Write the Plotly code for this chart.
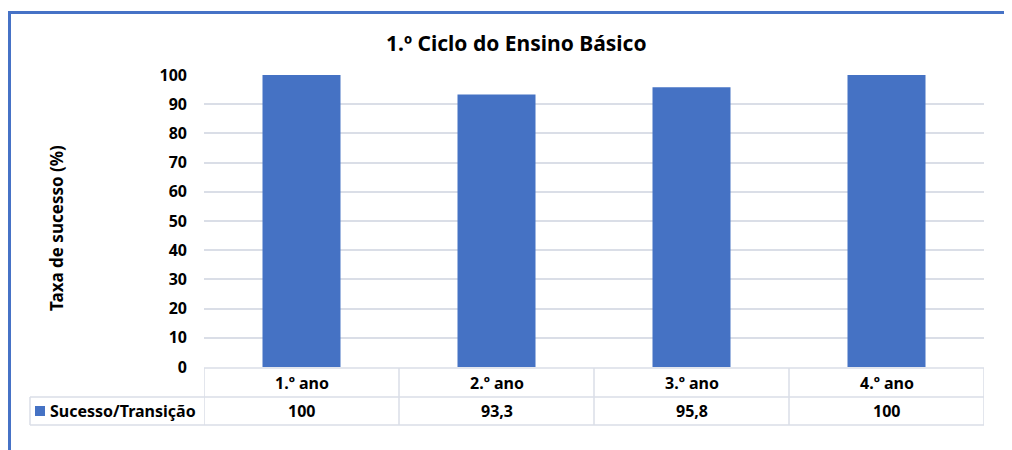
import plotly.graph_objects as go

categories = ["1.º ano", "2.º ano", "3.º ano", "4.º ano"]
values = [100, 93.3, 95.8, 100]
value_labels = ["100", "93,3", "95,8", "100"]
series_name = "Sucesso/Transição"
title = "1.º Ciclo do Ensino Básico"
y_title = "Taxa de sucesso (%)"
y_ticks = [0, 10, 20, 30, 40, 50, 60, 70, 80, 90, 100]

FONT = "Noto Sans"
BLUE = "#4572C4"
GRID = "#dadee7"

OFF = 8  # page body margin offset
W, H = 1012 - OFF, 450 - OFF
PL, PR, PT, PB = 204, 984, 75, 367
L, R, T, B = PL - OFF, W - (PR - OFF), PT - OFF, H - (PB - OFF)
pw, ph = PR - PL, PB - PT

def px_x(p):
    return (p - PL) / pw

def px_y(p):
    return (PB - p) / ph

fig = go.Figure()
fig.add_trace(go.Bar(
    x=list(range(len(categories))), y=values, name=series_name,
    marker=dict(color=BLUE, line=dict(width=0)), width=0.4,
    hoverinfo="y",
))

shapes = []
shapes.append(dict(type="rect", xref="paper", yref="paper",
                   x0=px_x(9.5), x1=px_x(1030), y0=px_y(470), y1=px_y(12.5),
                   line=dict(color="#4672c6", width=3), fillcolor="rgba(0,0,0,0)", layer="above"))

row1_top, row2_top, row2_bot = 368, 397, 425
legend_left = 30
tline = dict(color=GRID, width=1.5)
n = len(categories)
shapes.append(dict(type="line", xref="x", yref="paper", x0=-0.5, x1=n - 0.5,
                   y0=px_y(row1_top), y1=px_y(row1_top), line=tline))
shapes.append(dict(type="line", xref="paper", yref="paper", x0=px_x(legend_left), x1=1,
                   y0=px_y(row2_top), y1=px_y(row2_top), line=tline))
shapes.append(dict(type="line", xref="paper", yref="paper", x0=px_x(legend_left), x1=1,
                   y0=px_y(row2_bot), y1=px_y(row2_bot), line=tline))
for i in range(n + 1):
    shapes.append(dict(type="line", xref="x", yref="paper", x0=i - 0.5, x1=i - 0.5,
                       y0=px_y(row2_bot), y1=px_y(row1_top), line=tline))
shapes.append(dict(type="line", xref="paper", yref="paper", x0=px_x(legend_left), x1=px_x(legend_left),
                   y0=px_y(row2_bot), y1=px_y(row2_top), line=tline))
shapes.append(dict(type="rect", xref="paper", yref="paper",
                   x0=px_x(35), x1=px_x(45), y0=px_y(416), y1=px_y(406),
                   fillcolor=BLUE, line=dict(width=0)))

annotations = []
r1 = px_y((row1_top + row2_top) / 2)
r2 = px_y((row2_top + row2_bot) / 2)
tf = dict(family=FONT, size=16, color="#000")
for i, (c, v) in enumerate(zip(categories, value_labels)):
    annotations.append(dict(x=i, y=r1, xref="x", yref="paper", text=f"<b>{c}</b>",
                            xanchor="center", yanchor="middle", showarrow=False, font=tf))
    annotations.append(dict(x=i, y=r2, xref="x", yref="paper", text=f"<b>{v}</b>",
                            xanchor="center", yanchor="middle", showarrow=False, font=tf))
annotations.append(dict(x=px_x(48), y=r2, xref="paper", yref="paper", text=f"<b>{series_name}</b>",
                        xanchor="left", yanchor="middle", showarrow=False, font=tf))
annotations.append(dict(x=px_x(516), y=px_y(43), xref="paper", yref="paper", text=f"<b>{title}</b>",
                        xanchor="center", yanchor="middle", showarrow=False,
                        font=dict(family=FONT, size=21, color="#000")))
annotations.append(dict(x=px_x(56), y=px_y(228), xref="paper", yref="paper", text=f"<b>{y_title}</b>",
                        xanchor="center", yanchor="middle", showarrow=False, textangle=-90,
                        font=dict(family=FONT, size=17, color="#000")))

fig.update_layout(
    width=W, height=H,
    margin=dict(l=L, r=R, t=T, b=B, pad=0),
    paper_bgcolor="white", plot_bgcolor="white",
    showlegend=False,
    shapes=shapes, annotations=annotations,
    font=dict(family=FONT, color="#000"),
    xaxis=dict(range=[-0.5, n - 0.5], showticklabels=False, showgrid=False,
               zeroline=False, showline=False, ticks=""),
    yaxis=dict(range=[0, 100], tickvals=y_ticks, ticktext=[f"<b>{t}</b>" for t in y_ticks],
               showgrid=True, gridcolor=GRID, gridwidth=1.5, zeroline=False, showline=False,
               ticks="", ticklabelstandoff=16,
               tickfont=dict(family=FONT, size=16, color="#000")),
)

fig.write_html("out.html")
